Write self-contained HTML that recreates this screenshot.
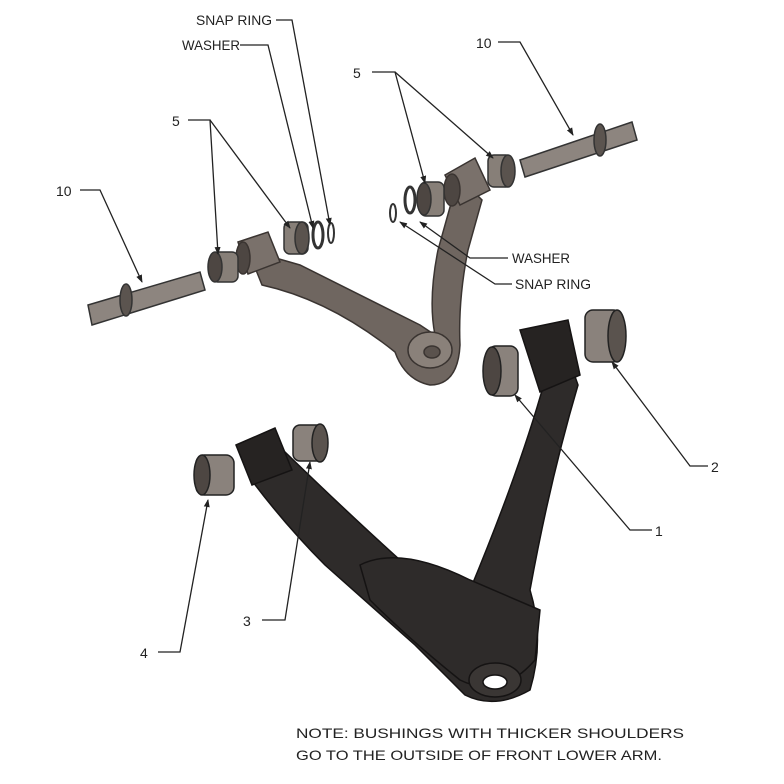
<!DOCTYPE html>
<html><head><meta charset="utf-8"><style>
html,body{margin:0;padding:0;background:#fff}
svg{display:block}
text{font-family:"Liberation Sans",sans-serif;font-size:14px;fill:#222}
</style></head><body>
<svg width="784" height="784" viewBox="0 0 784 784">
<defs>
<marker id="a" markerWidth="8" markerHeight="8" refX="7" refY="4" orient="auto" markerUnits="userSpaceOnUse"><path d="M0,1 L8,4 L0,7 Z" fill="#222"/></marker>
</defs>
<!-- upper arm -->
<g fill="#6f6660" stroke="#3a3431" stroke-width="1.5">
<path d="M248,250 L300,265 Q380,305 420,325 L435,335 Q428,300 438,250 L452,200 L470,188 L482,200 L468,250 Q458,300 460,345 Q458,385 430,385 Q405,380 395,352 Q330,300 262,285 Z"/>
<ellipse cx="430" cy="350" rx="22" ry="18" fill="#8a817a"/>
<ellipse cx="432" cy="352" rx="8" ry="6" fill="#5a524d"/>
<path d="M238,242 L268,232 L280,262 L248,274 Z" fill="#7a716b"/>
<ellipse cx="243" cy="258" rx="7" ry="16" fill="#4d4642"/>
<path d="M445,175 L475,158 L490,190 L460,205 Z" fill="#7a716b"/>
<ellipse cx="452" cy="190" rx="8" ry="16" fill="#4d4642"/>
</g>
<!-- left shaft -->
<g stroke="#333" stroke-width="1.5" fill="#8d857f">
<path d="M88,305 L200,272 L205,290 L92,325 Z"/>
<ellipse cx="126" cy="300" rx="6" ry="16" fill="#5b544f"/>
</g>
<!-- right shaft -->
<g stroke="#333" stroke-width="1.5" fill="#8d857f">
<path d="M520,160 L632,122 L637,140 L525,177 Z"/>
<ellipse cx="600" cy="140" rx="6" ry="16" fill="#5b544f"/>
</g>
<!-- upper bushings -->
<g stroke="#333" stroke-width="1.5">
<rect x="212" y="252" width="26" height="30" rx="6" fill="#877f78"/><ellipse cx="215" cy="267" rx="7" ry="15" fill="#4d4642"/>
<rect x="284" y="222" width="24" height="32" rx="6" fill="#877f78"/><ellipse cx="302" cy="238" rx="7" ry="16" fill="#5a534e"/>
<ellipse cx="318" cy="235" rx="5" ry="13" fill="none" stroke-width="3"/>
<ellipse cx="331" cy="233" rx="3" ry="10" fill="none" stroke-width="2"/>
<rect x="420" y="182" width="24" height="34" rx="6" fill="#877f78"/><ellipse cx="424" cy="199" rx="7" ry="16" fill="#4d4642"/>
<ellipse cx="410" cy="200" rx="5" ry="13" fill="none" stroke-width="3"/>
<ellipse cx="393" cy="213" rx="3" ry="9" fill="none" stroke-width="2"/>
<rect x="488" y="155" width="24" height="32" rx="6" fill="#877f78"/><ellipse cx="508" cy="171" rx="7" ry="16" fill="#5a534e"/>
</g>
<!-- lower arm -->
<g fill="#2e2b2a" stroke="#151313" stroke-width="1.5">
<path d="M240,445 L285,452 Q350,515 400,560 L470,590 Q520,470 545,380 L572,368 L578,385 Q550,480 530,590 Q545,640 530,690 Q495,710 465,695 Q440,670 415,645 Q370,605 325,565 Q285,525 250,478 Z"/>
<path d="M360,565 Q400,545 470,580 L540,610 L535,660 Q500,700 460,680 Q410,640 370,600 Z"/>
<path d="M520,330 L568,320 L580,375 L540,392 Z" fill="#262322"/>
<path d="M236,445 L275,428 L292,470 L252,485 Z" fill="#262322"/>
<ellipse cx="495" cy="680" rx="26" ry="17" fill="#3a3634"/>
<ellipse cx="495" cy="682" rx="12" ry="7" fill="#fff"/>
</g>
<!-- lower bushings -->
<g stroke="#222" stroke-width="1.5">
<rect x="488" y="346" width="30" height="50" rx="8" fill="#8a827c"/><ellipse cx="492" cy="371" rx="9" ry="24" fill="#4d4642"/>
<rect x="585" y="310" width="36" height="52" rx="8" fill="#8a827c"/><ellipse cx="617" cy="336" rx="9" ry="26" fill="#5a534e"/>
<rect x="196" y="455" width="38" height="40" rx="8" fill="#8a827c"/><ellipse cx="202" cy="475" rx="8" ry="20" fill="#4d4642"/>
<rect x="293" y="425" width="32" height="36" rx="7" fill="#8a827c"/><ellipse cx="320" cy="443" rx="8" ry="19" fill="#5a534e"/>
</g>
<!-- leaders -->
<g stroke="#222" stroke-width="1.3" fill="none">
<polyline points="80,190 100,190 142,282" marker-end="url(#a)"/>
<polyline points="188,120 210,120 218,254" marker-end="url(#a)"/>
<polyline points="210,120 290,228" marker-end="url(#a)"/>
<polyline points="240,45 268,45 313,228" marker-end="url(#a)"/>
<polyline points="276,20 292,20 330,225" marker-end="url(#a)"/>
<polyline points="372,72 395,72 425,183" marker-end="url(#a)"/>
<polyline points="395,72 493,158" marker-end="url(#a)"/>
<polyline points="498,42 520,42 573,135" marker-end="url(#a)"/>
<polyline points="508,258 470,258 420,222" marker-end="url(#a)"/>
<polyline points="512,284 495,284 400,222" marker-end="url(#a)"/>
<polyline points="708,466 690,466 612,362" marker-end="url(#a)"/>
<polyline points="652,530 630,530 515,395" marker-end="url(#a)"/>
<polyline points="262,620 285,620 310,462" marker-end="url(#a)"/>
<polyline points="158,652 180,652 208,500" marker-end="url(#a)"/>
</g>
<g>
<text x="196" y="25" textLength="76" lengthAdjust="spacingAndGlyphs">SNAP RING</text>
<text x="182" y="50" textLength="58" lengthAdjust="spacingAndGlyphs">WASHER</text>
<text x="172" y="126" font-size="16">5</text>
<text x="56" y="196" font-size="16">10</text>
<text x="353" y="78" font-size="16">5</text>
<text x="476" y="48" font-size="16">10</text>
<text x="512" y="263" textLength="58" lengthAdjust="spacingAndGlyphs">WASHER</text>
<text x="515" y="289" textLength="76" lengthAdjust="spacingAndGlyphs">SNAP RING</text>
<text x="711" y="472" font-size="16">2</text>
<text x="655" y="536" font-size="16">1</text>
<text x="243" y="626" font-size="16">3</text>
<text x="140" y="658" font-size="16">4</text>
<text x="296" y="738" font-size="19" textLength="388" lengthAdjust="spacingAndGlyphs">NOTE: BUSHINGS WITH THICKER SHOULDERS</text>
<text x="296" y="760" font-size="19" textLength="366" lengthAdjust="spacingAndGlyphs">GO TO THE OUTSIDE OF FRONT LOWER ARM.</text>
</g>
</svg>
</body></html>
